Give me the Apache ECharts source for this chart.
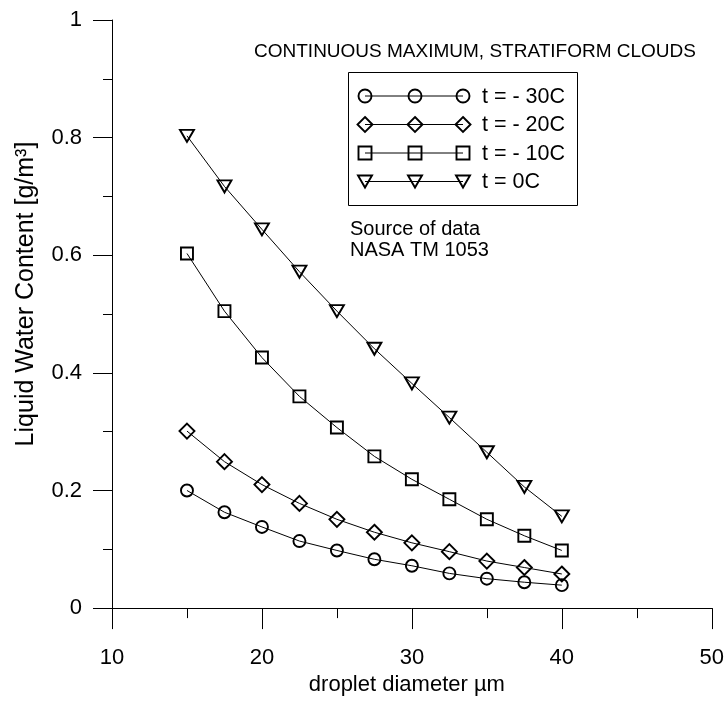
<!DOCTYPE html>
<html>
<head>
<meta charset="utf-8">
<title>Liquid water content vs droplet diameter</title>
<script src="https://cdn.jsdelivr.net/npm/echarts@6/dist/echarts.min.js"></script>
<style>
  html, body { margin: 0; padding: 0; background: #fff; }
  #chart { width: 727px; height: 701px; }
</style>
</head>
<body>
<div id="chart"></div>
<script>
// Droplet diameter (micrometres) of each reading
const diameters = [15, 17.5, 20, 22.5, 25, 27.5, 30, 32.5, 35, 37.5, 40];

// Liquid water content [g/m3], continuous maximum, stratiform clouds
const lwcMinus30 = [0.200, 0.163, 0.138, 0.114, 0.098, 0.083, 0.072, 0.059, 0.050, 0.044, 0.039];
const lwcMinus20 = [0.301, 0.249, 0.210, 0.178, 0.151, 0.129, 0.111, 0.096, 0.080, 0.069, 0.058];
const lwcMinus10 = [0.603, 0.505, 0.426, 0.360, 0.307, 0.258, 0.219, 0.185, 0.151, 0.123, 0.098];
const lwcZero    = [0.803, 0.717, 0.644, 0.572, 0.505, 0.441, 0.382, 0.324, 0.265, 0.206, 0.156];

const seriesNames = ['t = - 30C', 't = - 20C', 't = - 10C', 't = 0C'];
const seriesData = [lwcMinus30, lwcMinus20, lwcMinus10, lwcZero];

const titleText = 'CONTINUOUS MAXIMUM, STRATIFORM CLOUDS';
const sourceLines = ['Source of data', 'NASA TM 1053'];
const xAxisTitle = 'droplet diameter \u00b5m';
const yAxisTitle = 'Liquid Water Content [g/m\u00b3]';

const FONT = 'Arial, "Liberation Sans", sans-serif';
const INK = '#000';

// Marker style for each temperature
const markerStyles = [
  { symbol: 'circle',   size: 12, rotate: 0 },
  { symbol: 'diamond',  size: 15, rotate: 0 },
  { symbol: 'rect',     size: 12, rotate: 0 },
  { symbol: 'triangle', size: [14, 12], rotate: 180 }
];

const series = seriesData.map((vals, i) => ({
  name: seriesNames[i],
  type: 'line',
  data: diameters.map((d, j) => [d, vals[j]]),
  symbol: markerStyles[i].symbol,
  symbolSize: markerStyles[i].size,
  symbolRotate: markerStyles[i].rotate,
  showAllSymbol: true,
  lineStyle: { color: INK, width: 1 },
  itemStyle: { color: 'rgba(0,0,0,0)', borderColor: INK, borderWidth: 1.9 },
  emphasis: { disabled: true },
  z: 3
}));

// Legend box: one row per series, three hollow markers joined by a line
function legendMarker(kind, cx, cy) {
  const st = { fill: 'none', stroke: INK, lineWidth: 1.9 };
  if (kind === 'circle') return { type: 'circle', shape: { cx, cy, r: 6.5 }, style: st };
  if (kind === 'diamond') return { type: 'polygon', shape: { points: [[cx, cy - 7.5], [cx + 7.5, cy], [cx, cy + 7.5], [cx - 7.5, cy]] }, style: st };
  if (kind === 'rect') return { type: 'rect', shape: { x: cx - 6.5, y: cy - 6.5, width: 13, height: 13 }, style: st };
  return { type: 'polygon', shape: { points: [[cx - 7, cy - 6], [cx + 7, cy - 6], [cx, cy + 6]] }, style: st };
}

const legendBox = { x: 348, y: 72, w: 229, h: 133 };
const legendRowY = [96, 124.5, 153, 181.5];
const legendMarkX = [365, 415, 463];

const graphics = [
  { type: 'rect', shape: { x: legendBox.x + 0.5, y: legendBox.y + 0.5, width: legendBox.w, height: legendBox.h },
    style: { fill: '#fff', stroke: INK, lineWidth: 1 }, z: 10 }
];
seriesNames.forEach((name, i) => {
  const cy = legendRowY[i];
  graphics.push({ type: 'line', shape: { x1: legendMarkX[0], y1: cy, x2: legendMarkX[2], y2: cy },
    style: { stroke: INK, lineWidth: 1 }, z: 11 });
  legendMarkX.forEach(cx => {
    const m = legendMarker(markerStyles[i].symbol, cx, cy);
    m.z = 12;
    graphics.push(m);
  });
  graphics.push({ type: 'text', x: 482, y: cy + 1, z: 12,
    style: { text: name, font: '21.5px ' + FONT, fill: INK, verticalAlign: 'middle', align: 'left' } });
});

graphics.push({ type: 'text', x: 475, y: 52, z: 12,
  style: { text: titleText, font: '19px ' + FONT, fill: INK, align: 'center', verticalAlign: 'middle' } });
sourceLines.forEach((line, i) => {
  graphics.push({ type: 'text', x: 350, y: 229 + i * 21.5, z: 12,
    style: { text: line, font: '20px ' + FONT, fill: INK, align: 'left', verticalAlign: 'middle' } });
});
graphics.push({ type: 'text', x: 26, y: 294, rotation: Math.PI / 2, z: 12,
  style: { text: yAxisTitle, font: '25px ' + FONT, fill: INK, align: 'center', verticalAlign: 'middle' } });

const chart = echarts.init(document.getElementById('chart'), null, { renderer: 'canvas' });
chart.setOption({
  animation: false,
  backgroundColor: '#fff',
  grid: { left: 112, right: 15, top: 20, bottom: 85, containLabel: false },
  xAxis: {
    type: 'value', min: 10, max: 50, interval: 10,
    name: xAxisTitle, nameLocation: 'middle', nameGap: 64,
    nameTextStyle: { fontFamily: FONT, fontSize: 22, color: INK, padding: [0, 10, 0, 0] },
    axisLine: { show: true, onZero: false, lineStyle: { color: INK, width: 1 } },
    axisTick: { show: true, inside: false, length: 21, lineStyle: { color: INK, width: 1 } },
    minorTick: { show: true, splitNumber: 2, length: 10, lineStyle: { color: INK, width: 1 } },
    axisLabel: { fontFamily: FONT, fontSize: 22, color: INK, margin: 39 },
    splitLine: { show: false }
  },
  yAxis: {
    type: 'value', min: 0, max: 1, interval: 0.2,
    axisLine: { show: true, onZero: false, lineStyle: { color: INK, width: 1 } },
    axisTick: { show: true, inside: false, length: 19, lineStyle: { color: INK, width: 1 } },
    minorTick: { show: true, splitNumber: 2, length: 9, lineStyle: { color: INK, width: 1 } },
    axisLabel: { fontFamily: FONT, fontSize: 22, color: INK, margin: 30 },
    splitLine: { show: false }
  },
  series: series,
  graphic: graphics
});
</script>
</body>
</html>
